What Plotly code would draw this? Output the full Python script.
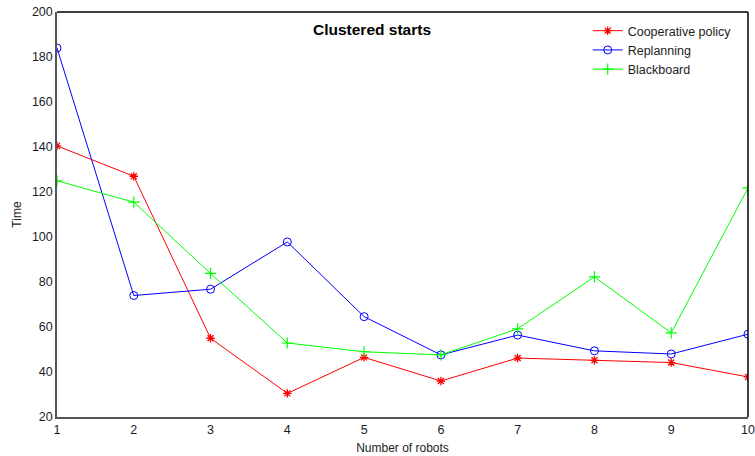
import plotly.graph_objects as go

robots = [1, 2, 3, 4, 5, 6, 7, 8, 9, 10]
cooperative = [140.5, 127, 55, 30.5, 46.5, 36, 46.2, 45.2, 44.2, 37.8]
replanning = [184, 74, 76.8, 97.8, 64.6, 47.6, 56.4, 49.4, 48, 56.8]
blackboard = [125, 115.5, 83.8, 52.9, 49, 47.6, 59.2, 82.3, 57.4, 121.8]

fig = go.Figure()
fig.add_trace(go.Scatter(x=robots, y=cooperative, name="Cooperative policy", mode="lines+markers",
                         line=dict(color="#ff0000", width=1),
                         marker=dict(symbol="asterisk-open", size=7, color="#ff0000", line=dict(width=1.3, color="#ff0000"))))
fig.add_trace(go.Scatter(x=robots, y=replanning, name="Replanning", mode="lines+markers",
                         line=dict(color="#0000ff", width=1),
                         marker=dict(symbol="circle-open", size=8, color="#0000ff", line=dict(width=1, color="#0000ff"))))
fig.add_trace(go.Scatter(x=robots, y=blackboard, name="Blackboard", mode="lines+markers",
                         line=dict(color="#00ff00", width=1),
                         marker=dict(symbol="cross-thin-open", size=8, color="#00ff00", line=dict(width=1.2, color="#00ff00"))))

axis_common = dict(showgrid=False, zeroline=False, showline=True, linecolor="#555555", linewidth=1.5,
                   mirror=False, ticks="", automargin=False,
                   tickfont=dict(family="Arial", size=12.5, color="#1a1a2a"))

fig.update_layout(
    width=755, height=456,
    margin=dict(l=57, r=7, t=12, b=39, autoexpand=False),
    paper_bgcolor="white", plot_bgcolor="white",
    font=dict(family="Arial", size=12, color="#222222"),
    showlegend=True,
    legend=dict(x=0.768, y=0.99, xanchor="left", yanchor="top", bgcolor="rgba(0,0,0,0)",
                font=dict(family="Arial", size=12.5, color="#222222"), tracegroupgap=0,
                itemwidth=30),
    xaxis=dict(range=[1, 10], tickvals=robots, ticktext=[str(r) for r in robots],
               title=dict(text="Number of robots", standoff=8, font=dict(family="Arial", size=12, color="#222222")),
               **axis_common),
    yaxis=dict(range=[20, 200], dtick=20, tick0=20,
               title=dict(text="Time", standoff=8, font=dict(family="Arial", size=12, color="#222222")),
               **axis_common),
    annotations=[dict(text="<b>Clustered starts</b>", x=0.456, y=0.982, xref="paper", yref="paper",
                      showarrow=False, font=dict(family="Arial", size=15.5, color="black"))],
    shapes=[
        dict(type="line", xref="paper", yref="paper", x0=0, x1=1, y0=1, y1=1, line=dict(color="black", width=1.5)),
        dict(type="line", xref="paper", yref="paper", x0=1, x1=1, y0=0, y1=1, line=dict(color="black", width=1.5)),
    ],
)

fig.write_html("out.html", config={"displayModeBar": False},
               post_script="document.body.style.margin='0px';document.body.style.overflow='hidden';")
